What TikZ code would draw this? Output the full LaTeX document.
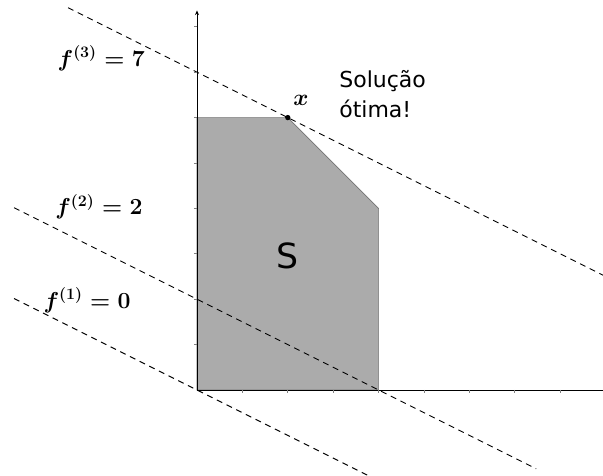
\documentclass[tikz,border=0pt]{standalone}
\usepackage{fontspec}
\usepackage{amsmath}
\newfontfamily\dejavu{DejaVu Sans}
\usetikzlibrary{arrows.meta}
\begin{document}
\begin{tikzpicture}[x=34.05pt,y=34.05pt,
  fline/.style={dash pattern=on 4.5pt off 3.6pt, line width=0.7pt},
  tickmark/.style={gray, line width=0.5pt},
  mlbl/.style={font=\fontsize{18.5}{22}\selectfont, inner sep=0pt},
  slbl/.style={font=\dejavu\fontsize{16.5}{20}\selectfont, inner sep=0pt}]
\fill[white] (-4.339,-1.894) rectangle (8.943,8.590);
\useasboundingbox (-4.339,-1.894) rectangle (8.943,8.590);
\begin{scope}
\clip (-4.339,-1.894) rectangle (8.943,8.590);
% feasible region
\filldraw[fill=black!33, draw=black!55, line width=0.5pt]
  (0,0) -- (0,6) -- (2,6) -- (4,4) -- (4,0) -- cycle;
% level lines
\coordinate (a3) at (-2.84,8.42);
\coordinate (b3) at (8.95,2.525);
\coordinate (a2) at (-4.03,4.015);
\coordinate (b2) at (7.47,-1.735);
\coordinate (a1) at (-4.03,2.015);
\coordinate (b1) at (3.75,-1.875);
\draw[fline] (a3) -- (b3);
\draw[fline] (a2) -- (b2);
\draw[fline] (a1) -- (b1);
% axes
\coordinate (o) at (0,0);
\coordinate (xend) at (9.2,0);
\coordinate (yend) at (0,8.36);
\draw[line width=0.6pt] (o) -- (xend);
\draw[line width=0.6pt, -{Stealth[length=3.5pt,width=3pt]}] (o) -- (yend);
\foreach \i in {1,...,8} {
  \draw[tickmark] (\i,0) -- (\i,-0.07);
  \draw[tickmark] (0,\i) -- (-0.07,\i);
}
\end{scope}
% optimum point
\fill (2,6) circle (2pt);
\node[mlbl] (xl) at (2.29,6.37) {$\boldsymbol{x}$};
\node[slbl, anchor=base west] (sol1) at (3.13,6.67) {Solução};
\node[slbl, anchor=base west] (sol2) at (3.13,6.01) {ótima!};
\node[font=\dejavu\fontsize{26}{30}\selectfont, inner sep=0pt] (S) at (2.0,2.95) {S};
% level labels
\node[mlbl] (l3) at (-2.11,7.31) {$\boldsymbol{f^{(3)} = 7}$};
\node[mlbl] (l2) at (-2.16,4.03) {$\boldsymbol{f^{(2)} = 2}$};
\node[mlbl] (l1) at (-2.42,1.98) {$\boldsymbol{f^{(1)} = 0}$};
\end{tikzpicture}
\end{document}
